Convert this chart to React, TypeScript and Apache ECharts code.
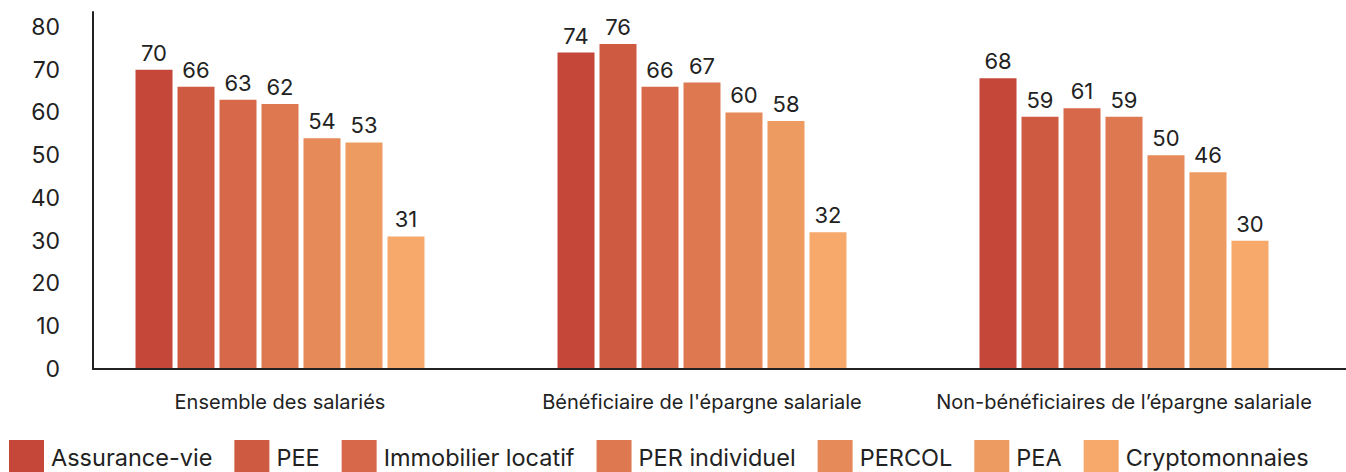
import React, { useEffect, useRef } from "react";
import * as echarts from "echarts";

const categories = [
  "Ensemble des salariés",
  "Bénéficiaire de l'épargne salariale",
  "Non-bénéficiaires de l’épargne salariale",
];
const seriesNames = [
  "Assurance-vie",
  "PEE",
  "Immobilier locatif",
  "PER individuel",
  "PERCOL",
  "PEA",
  "Cryptomonnaies",
];
const assuranceVie = [70, 74, 68];
const pee = [66, 76, 59];
const immobilierLocatif = [63, 66, 61];
const perIndividuel = [62, 67, 59];
const percol = [54, 60, 50];
const pea = [53, 58, 46];
const cryptomonnaies = [31, 32, 30];
const seriesValues = [assuranceVie, pee, immobilierLocatif, perIndividuel, percol, pea, cryptomonnaies];
const colors = ["#c4473a", "#cf5a42", "#d8684a", "#de7850", "#e78a5a", "#ee9b61", "#f6a96b"];

const FONT = "Inter, 'Noto Sans', sans-serif";

export default function App() {
  const ref = useRef<HTMLDivElement>(null);
  useEffect(() => {
    if (!ref.current) return;
    const chart = echarts.init(ref.current, undefined, { renderer: "svg" });
    chart.setOption({
      animation: false,
      textStyle: { fontFamily: FONT },
      grid: { left: 69, right: 11, top: 12, bottom: 103, containLabel: false },
      legend: {
        left: 9,
        top: 440,
        padding: 0,
        itemWidth: 35,
        itemHeight: 34,
        itemGap: 22,
        icon: "rect",
        textStyle: { fontSize: 23.5, color: "#222", fontFamily: FONT, padding: [0, 0, 0, 2] },
        data: seriesNames,
      },
      xAxis: {
        type: "category",
        data: categories,
        axisLine: { show: false },
        axisTick: { show: false },
        axisLabel: { color: "#222", fontSize: 20, margin: 23, interval: 0, hideOverlap: false, fontFamily: FONT },
      },
      yAxis: {
        type: "value",
        min: 0,
        max: 83.5,
        interval: 10,
        offset: -24,
        splitLine: { show: false },
        axisLine: { show: true, lineStyle: { color: "#222", width: 2 } },
        axisTick: { show: false },
        axisLabel: { color: "#222", fontSize: 23, margin: 33, showMaxLabel: false, fontFamily: FONT },
      },
      graphic: [
        {
          type: "line",
          shape: { x1: 92, y1: 369, x2: 1346, y2: 369 },
          style: { stroke: "#222", lineWidth: 2 },
          z: 10,
        },
      ],
      series: seriesNames.map((name, i) => ({
        name,
        type: "bar",
        data: seriesValues[i],
        barWidth: 37,
        barGap: "13.5%",
        itemStyle: { color: colors[i] },
        label: {
          show: true,
          position: "top",
          distance: 6,
          color: "#222",
          fontSize: 22,
          fontFamily: FONT,
        },
      })),
    });
    return () => chart.dispose();
  }, []);
  return <div ref={ref} style={{ width: 1346, height: 472, position: "absolute", left: 0, top: 0 }} />;
}
